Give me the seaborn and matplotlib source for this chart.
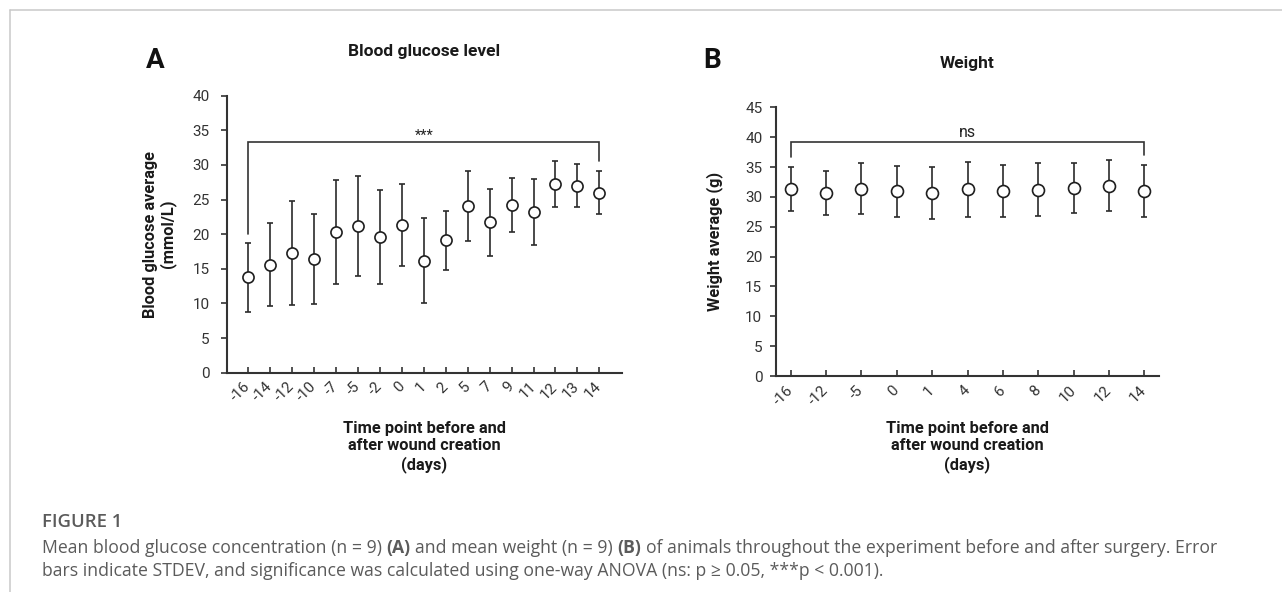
import numpy as np
import matplotlib
matplotlib.use("Agg")
import matplotlib.pyplot as plt
from matplotlib.lines import Line2D
import seaborn as sns

# ---- data -------------------------------------------------------------
glucose_days = ["-16", "-14", "-12", "-10", "-7", "-5", "-2", "0", "1", "2",
                "5", "7", "9", "11", "12", "13", "14"]
glucose_mean = [13.8, 15.6, 17.3, 16.4, 20.3, 21.2, 19.6, 21.3, 16.2, 19.1,
                24.1, 21.7, 24.2, 23.2, 27.2, 27.0, 26.0]
glucose_sd = [5.0, 6.0, 7.5, 6.5, 7.5, 7.2, 6.8, 5.9, 6.2, 4.2,
              5.05, 4.8, 3.9, 4.7, 3.3, 3.1, 3.1]

weight_days = ["-16", "-12", "-5", "0", "1", "4", "6", "8", "10", "12", "14"]
weight_mean = [31.3, 30.6, 31.4, 30.9, 30.6, 31.3, 31.0, 31.2, 31.5, 31.9, 31.0]
weight_sd = [3.7, 3.7, 4.35, 4.2, 4.35, 4.6, 4.3, 4.4, 4.15, 4.3, 4.4]

glucose_ticks = list(range(0, 41, 5))
weight_ticks = list(range(0, 46, 5))

W, H = 1282, 592
INK = "#2b2b2b"
TICK_SIZE = 11
LABEL_SIZE = 11.8
TITLE_SIZE = 12.5

sns.set_theme(style="ticks")
plt.rcParams["font.family"] = ["Roboto", "DejaVu Sans"]

fig = plt.figure(figsize=(W / 100, H / 100), dpi=100)
fig.patch.set_facecolor("white")


def panel(rect, days, mean, sd, yticks, xlim, ms, ytick_pad):
    ax = fig.add_axes(rect)
    ax.set_facecolor("white")
    x = np.arange(len(days))
    ax.errorbar(x, mean, yerr=sd, fmt="none", ecolor=INK, elinewidth=1.2,
                capsize=2.2, capthick=1.2, zorder=2)
    sns.pointplot(x=days, y=mean, ax=ax, color=INK, linestyle="none",
                  markers="o", errorbar=None, markersize=ms,
                  markerfacecolor="white", markeredgecolor="#1e1e1e",
                  markeredgewidth=1.2, zorder=3)
    ax.set_xlim(*xlim)
    ax.set_ylim(yticks[0], yticks[-1])
    ax.set_yticks(yticks)
    ax.set_xticks(x)
    ax.set_xticklabels(days, rotation=45, ha="right", va="center",
                       rotation_mode="anchor")
    for side in ("top", "right"):
        ax.spines[side].set_visible(False)
    for side in ("left", "bottom"):
        ax.spines[side].set_color("#333333")
        ax.spines[side].set_linewidth(1.5)
    ax.tick_params(axis="y", direction="out", length=4.6, width=1.2,
                   color="#333333", labelsize=TICK_SIZE, labelcolor="#333333",
                   pad=ytick_pad)
    ax.tick_params(axis="x", direction="in", length=4.5, width=1.2,
                   color="#333333", labelsize=TICK_SIZE, labelcolor="#333333",
                   pad=8.5)
    ax.grid(False)
    return ax


# ---- panel A: blood glucose --------------------------------------------
axA = panel([226.5 / W, 1 - 372.7 / H, (621.7 - 226.5) / W, 277 / H],
            glucose_days, glucose_mean, glucose_sd, glucose_ticks,
            (-1.0, 17.02), 8.0, 7.5)
axA.set_ylabel("Blood glucose average\n(mmol/L)", fontsize=LABEL_SIZE,
               fontweight="bold", color="#1a1a1a", va="center",
               linespacing=1.15)
axA.yaxis.set_label_coords((159.5 - 226.5) / (621.7 - 226.5), 0.5)
axA.set_xlabel("Time point before and\nafter wound creation\n(days)",
               fontsize=LABEL_SIZE, fontweight="bold", color="#1a1a1a",
               va="center", linespacing=1.2)
axA.xaxis.set_label_coords(0.5, (372.7 - 447) / 277)
axA.set_title("Blood glucose level", fontsize=TITLE_SIZE, fontweight="bold",
              color="#1a1a1a", pad=0, y=(372.7 - 51.7) / 277, va="center")

# significance bracket A
yb = 33.26
axA.plot([0, 0, 16, 16], [20.1, yb, yb, 30.5], color="#333333", lw=1.2,
         solid_joinstyle="miter", zorder=2)
axA.text(8, yb, "***", ha="center", va="bottom", fontsize=10.5,
         color="#222222")

# ---- panel B: weight ------------------------------------------------------
axB = panel([775.7 / W, 1 - 376 / H, (1158.6 - 775.7) / W, (376 - 107.3) / H],
            weight_days, weight_mean, weight_sd, weight_ticks,
            (-0.424, 10.404), 8.6, 5.0)
axB.set_ylabel("Weight average (g)", fontsize=LABEL_SIZE, fontweight="bold",
               color="#1a1a1a", va="center")
axB.yaxis.set_label_coords((715 - 775.7) / (1158.6 - 775.7), 0.5)
axB.set_xlabel("Time point before and\nafter wound creation\n(days)",
               fontsize=LABEL_SIZE, fontweight="bold", color="#1a1a1a",
               va="center", linespacing=1.2)
axB.xaxis.set_label_coords(0.5, (376 - 447) / (376 - 107.3))
axB.set_title("Weight", fontsize=TITLE_SIZE, fontweight="bold",
              color="#1a1a1a", pad=0, y=(376 - 63.3) / (376 - 107.3),
              va="center")

yb = 39.25
axB.plot([0, 0, 10, 10], [36.6, yb, yb, 37.0], color="#333333", lw=1.2,
         solid_joinstyle="miter", zorder=2)
axB.text(5, yb + 0.2, "ns", ha="center", va="bottom", fontsize=11.5,
         color="#222222")

# ---- panel letters ---------------------------------------------------------
fig.text(155 / W, 1 - 60 / H, "A", fontsize=20, fontweight="bold",
         ha="center", va="center", color="#111111")
fig.text(712 / W, 1 - 60 / H, "B", fontsize=20, fontweight="bold",
         ha="center", va="center", color="#111111")

# ---- frame lines -------------------------------------------------------------
frame_col = "#c9c9c9"
fig.add_artist(Line2D([10 / W, 1], [1 - 10 / H, 1 - 10 / H],
                      transform=fig.transFigure, color=frame_col, lw=1.1))
fig.add_artist(Line2D([10 / W, 10 / W], [0, 1 - 10 / H],
                      transform=fig.transFigure, color=frame_col, lw=1.1))

# ---- caption ---------------------------------------------------------------
cap_font = ["Open Sans", "DejaVu Sans"]
cap_col = "#5b5b5b"
cap_size = 12.7
fig.text(41.7 / W, 1 - 527 / H, "FIGURE 1", fontsize=13.3,
         fontweight="semibold", family=cap_font, color=cap_col,
         va="baseline", ha="left")

renderer = fig.canvas.get_renderer()


def rich_line(x0, y_base, tokens):
    """Draw a line of text made of (string, weight) tokens separated by spaces."""
    probe1 = fig.text(0, 0, "x x", fontsize=cap_size, family=cap_font)
    probe2 = fig.text(0, 0, "xx", fontsize=cap_size, family=cap_font)
    space = (probe1.get_window_extent(renderer).width
             - probe2.get_window_extent(renderer).width)
    probe1.remove()
    probe2.remove()
    x = x0
    for s, wgt in tokens:
        t = fig.text(x / W, 1 - y_base / H, s, fontsize=cap_size,
                     family=cap_font, fontweight=wgt, color=cap_col,
                     va="baseline", ha="left")
        x += t.get_window_extent(renderer).width + space


rich_line(41.7, 553, [
    ("Mean blood glucose concentration (n = 9)", "normal"),
    ("(A)", "bold"),
    ("and mean weight (n = 9)", "normal"),
    ("(B)", "bold"),
    ("of animals throughout the experiment before and after surgery. Error",
     "normal"),
])
rich_line(41.7, 576, [
    ("bars indicate STDEV, and significance was calculated using one-way "
     "ANOVA (ns: p \u2265 0.05, ***p < 0.001).", "normal"),
])

fig.savefig("out.png", dpi=100, facecolor="white")
